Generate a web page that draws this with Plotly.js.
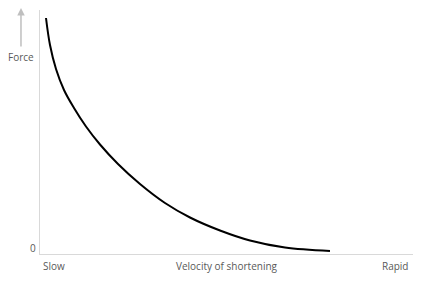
<!DOCTYPE html>
<html>
<head>
<script src="https://cdn.plot.ly/plotly-3.0.1.min.js"></script>
<style>html,body{margin:0;padding:0;background:#fff;}#chart{width:436px;height:284px;}</style>
</head>
<body>
<div id="chart"></div>
<script>
const velocity = [6, 10, 16, 24, 34, 46, 60, 78, 100, 125, 150, 180, 210, 245, 290];
const force = [236, 209, 185, 164, 146, 127.5, 109.5, 90, 70, 51, 36.5, 23.5, 13.5, 6.5, 3];
const xLabels = ["Slow", "Velocity of shortening", "Rapid"];
const yLabel = "Force";
const zeroLabel = "0";

const font = {family: "Open Sans, sans-serif", size: 10, color: "#595959"};
const trace = {
  x: velocity, y: force, type: "scatter", mode: "lines",
  line: {color: "#000000", width: 2, shape: "spline", smoothing: 1},
  hoverinfo: "none"
};
const layout = {
  width: 436, height: 284,
  margin: {l: 40, r: 23, t: 10, b: 30},
  paper_bgcolor: "#fff", plot_bgcolor: "#fff",
  showlegend: false,
  xaxis: {range: [0, 373], showgrid: false, zeroline: false, showticklabels: false, ticks: "",
          showline: true, linecolor: "#d9d9d9", linewidth: 1},
  yaxis: {range: [0, 244], showgrid: false, zeroline: false, showticklabels: false, ticks: "",
          showline: true, linecolor: "#d9d9d9", linewidth: 1},
  annotations: [
    {xref: "paper", yref: "paper", x: 0.0375, y: -0.049, text: xLabels[0], showarrow: false, font: font, xanchor: "center", yanchor: "middle"},
    {xref: "paper", yref: "paper", x: 0.501, y: -0.049, text: xLabels[1], showarrow: false, font: font, xanchor: "center", yanchor: "middle"},
    {xref: "paper", yref: "paper", x: 0.952, y: -0.049, text: xLabels[2], showarrow: false, font: font, xanchor: "center", yanchor: "middle"},
    {xref: "paper", yref: "paper", x: -0.051, y: 0.807, text: yLabel, showarrow: false, font: font, xanchor: "center", yanchor: "middle"},
    {xref: "paper", yref: "paper", x: -0.019, y: 0.025, text: zeroLabel, showarrow: false, font: font, xanchor: "center", yanchor: "middle"},
    {xref: "paper", yref: "paper", x: -0.051, y: 1.008, text: "", showarrow: true, axref: "pixel", ayref: "pixel",
     ax: 0, ay: 40, arrowhead: 2, arrowsize: 1, arrowwidth: 1.5, arrowcolor: "#bfbfbf"}
  ]
};
Plotly.newPlot("chart", [trace], layout, {displayModeBar: false, staticPlot: true});
</script>
</body>
</html>
